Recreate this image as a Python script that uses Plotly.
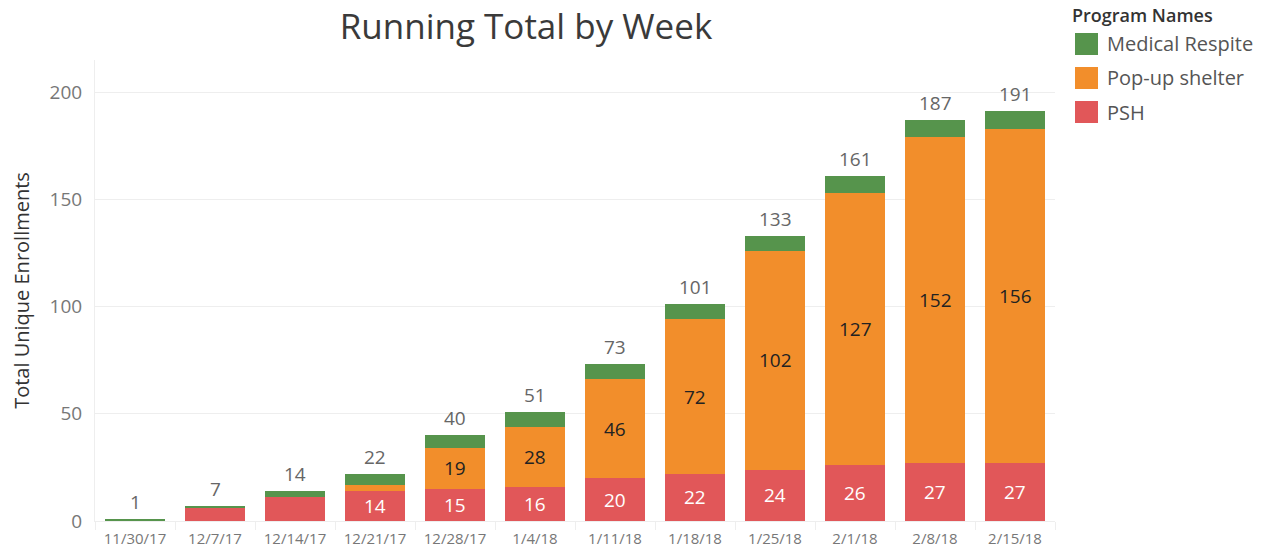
import plotly.graph_objects as go

weeks = ['11/30/17', '12/7/17', '12/14/17', '12/21/17', '12/28/17', '1/4/18',
         '1/11/18', '1/18/18', '1/25/18', '2/1/18', '2/8/18', '2/15/18']
psh = [0, 6, 11, 14, 15, 16, 20, 22, 24, 26, 27, 27]
popup = [0, 0, 0, 3, 19, 28, 46, 72, 102, 127, 152, 156]
medical = [1, 1, 3, 5, 6, 7, 7, 7, 7, 8, 8, 8]
totals = [a + b + c for a, b, c in zip(psh, popup, medical)]

series_names = ['Medical Respite', 'Pop-up shelter', 'PSH']
colors = {'Medical Respite': '#56944C', 'Pop-up shelter': '#F28E2B', 'PSH': '#E15759'}

FONT = 'Open Sans, sans-serif'
MIN_LABEL = 14

fig = go.Figure()
fig.add_bar(x=weeks, y=psh, name='PSH', marker_color=colors['PSH'], marker_line_width=0,
            showlegend=False)
fig.add_bar(x=weeks, y=popup, name='Pop-up shelter', marker_color=colors['Pop-up shelter'],
            marker_line_width=0, showlegend=False)
fig.add_bar(x=weeks, y=medical, name='Medical Respite', marker_color=colors['Medical Respite'],
            marker_line_width=0, showlegend=False)

# segment labels (centred in each segment)
for w, p, u in zip(weeks, psh, popup):
    if p >= MIN_LABEL:
        fig.add_annotation(x=w, y=p / 2, text=str(p), showarrow=False, yanchor='middle',
                           font=dict(size=19, color='white', family=FONT))
    if u >= MIN_LABEL:
        fig.add_annotation(x=w, y=p + u / 2, text=str(u), showarrow=False, yanchor='middle',
                           font=dict(size=19, color='#222222', family=FONT))

for w, t in zip(weeks, totals):
    fig.add_annotation(x=w, y=t, text=str(t), showarrow=False, yanchor='bottom', yshift=2,
                       font=dict(size=19, color='#666666', family=FONT))

# custom legend
fig.add_annotation(xref='paper', yref='paper', x=(1070 - 95) / 960, y=1 + (60 - 15) / 461,
                   text='Program Names', showarrow=False, xanchor='left', yanchor='middle',
                   font=dict(size=18, color='#333333', family=FONT, weight=600))
for i, name in enumerate(series_names):
    yc = 44 + 34 * i
    fig.add_shape(type='rect', xref='paper', yref='paper',
                  x0=(1075 - 95) / 960, x1=(1098 - 95) / 960,
                  y0=(521 - (yc + 11)) / 461, y1=(521 - (yc - 11)) / 461,
                  fillcolor=colors[name], line_width=0)
    fig.add_annotation(xref='paper', yref='paper', x=(1105 - 95) / 960, y=(521 - yc) / 461,
                       text=name, showarrow=False, xanchor='left', yanchor='middle',
                       font=dict(size=20, color='#555555', family=FONT))

fig.update_layout(
    barmode='stack', bargap=0.25,
    width=1277, height=554,
    margin=dict(l=95, r=222, t=60, b=33, autoexpand=False),
    plot_bgcolor='white', paper_bgcolor='white',
    font=dict(family=FONT),
    title=dict(text='Running Total by Week', x=526 / 1277, xanchor='center',
               y=1 - 27 / 554, yanchor='middle',
               font=dict(size=35, color='#3a3a3a', family=FONT)),
    xaxis=dict(tickfont=dict(size=15, color='#777777'), showgrid=False,
               showline=True, linecolor='#eeeeee', ticks='outside', ticklen=8,
               tickcolor='#eeeeee', tickson='boundaries', ticklabelstandoff=4),
    yaxis=dict(range=[0, 215], tickvals=[0, 50, 100, 150, 200],
               tickfont=dict(size=19, color='#777777'), gridcolor='#eeeeee',
               zeroline=False, showline=True, linecolor='#eeeeee',
               ticks='outside', ticklen=8, tickcolor='rgba(0,0,0,0)',
               title=dict(text='Total Unique Enrollments', standoff=14,
                          font=dict(size=20, color='#333333'))),
)

fig.write_html('out.html', config={'displayModeBar': False},
               post_script="document.body.style.margin='0';"
               "document.body.style.overflow='hidden';")
